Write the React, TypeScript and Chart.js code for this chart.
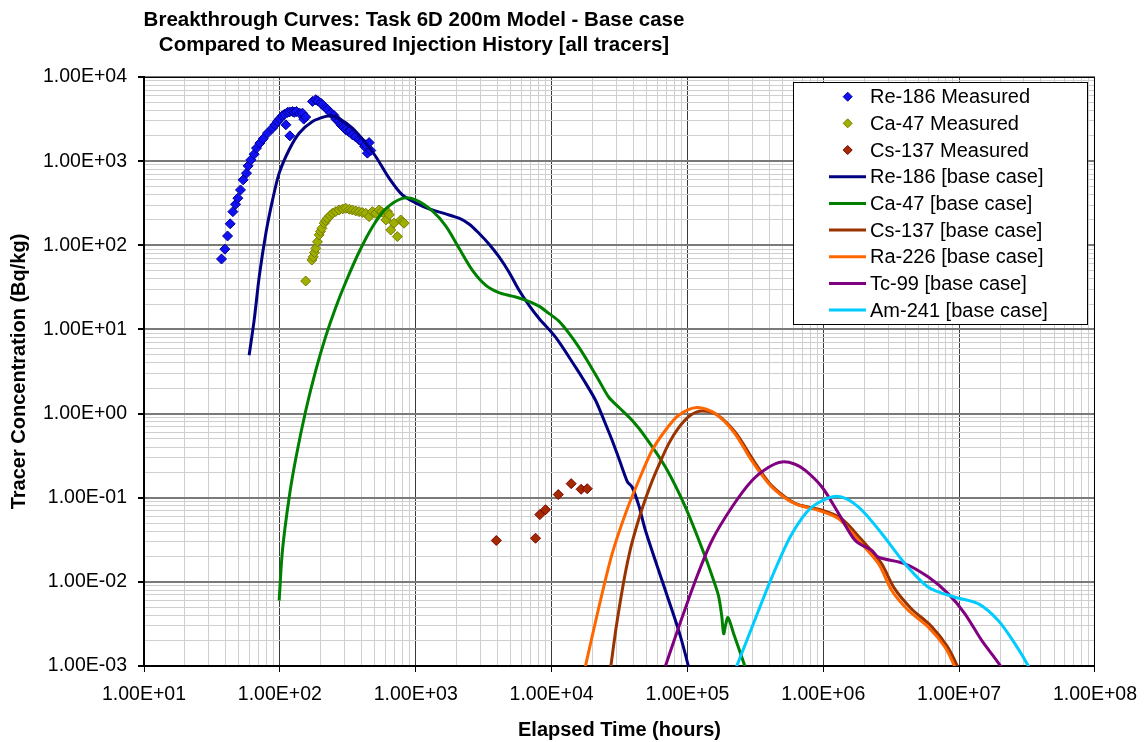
import React, { useEffect, useRef } from 'react';
import { Chart, registerables } from 'chart.js';

Chart.register(...registerables);

// ---------- DATA ----------
const titleLines = [
  'Breakthrough Curves: Task 6D 200m Model - Base case',
  'Compared to Measured Injection History [all tracers]',
];
const xAxisTitle = 'Elapsed Time (hours)';
const yAxisTitle = 'Tracer Concentration (Bq/kg)';

const xDecades = [1e1, 1e2, 1e3, 1e4, 1e5, 1e6, 1e7, 1e8];
const xTickLabels = ['1.00E+01', '1.00E+02', '1.00E+03', '1.00E+04', '1.00E+05', '1.00E+06', '1.00E+07', '1.00E+08'];
const yDecades = [1e-3, 1e-2, 1e-1, 1e0, 1e1, 1e2, 1e3, 1e4];
const yTickLabels = ['1.00E-03', '1.00E-02', '1.00E-01', '1.00E+00', '1.00E+01', '1.00E+02', '1.00E+03', '1.00E+04'];

const re186Measured: number[][] = [
  [37.2, 68.7], [39.4, 90], [41.2, 129], [43.1, 180], [45.1, 251], [47.2, 307], [49.1, 363], [51.3, 455],
  [53.7, 599], [56.8, 720], [58.4, 879], [61.2, 1035], [64.7, 1210], [67.3, 1428], [71.3, 1637], [75.4, 1842],
  [81.1, 2153], [88.3, 2470], [92, 2700], [96, 2960], [100, 3200], [104.5, 3459], [108, 3600], [113.7, 3790],
  [118, 3850], [124, 3890], [128, 3800], [132.5, 3890], [140, 3700], [146.7, 3720], [150, 3160], [155, 3340],
  [110.7, 2705], [118.5, 2000],
  [174, 5130], [183.8, 5380], [190, 5200], [200, 4900], [205, 4700], [218, 4270], [225, 4100], [237, 3720],
  [250, 3500], [258, 3160], [270, 3000], [281, 2705], [290, 2600], [295, 2500], [306, 2360], [320, 2250],
  [330, 2300], [342, 2056], [360, 1950], [383, 1794], [400, 1700], [420, 1500], [429, 1563], [441, 1245],
  [454, 1660], [467, 1337],
];

const ca47Measured: number[][] = [
  [155, 37.6], [172, 66.8], [176, 73], [180, 82], [184, 92], [189, 110], [194.5, 133], [199, 146], [204, 159],
  [212, 183], [218, 196], [224, 210], [234, 225], [244, 240], [258, 252], [273, 263], [290, 270], [306, 275],
  [325, 268], [342, 263], [362, 256], [383, 251], [405, 245], [429, 240], [454, 219], [480, 251], [508, 240],
  [537, 263], [560, 250], [585, 240], [603, 200], [618, 251], [640, 230], [655, 152], [692, 183], [732, 127],
  [776, 200], [800, 190], [821, 183],
];

const cs137Measured: number[][] = [
  [3920, 0.031], [7620, 0.033], [8200, 0.063], [9030, 0.072], [11200, 0.109], [13940, 0.147], [16500, 0.126], [18300, 0.128],
];

const re186Model: number[][] = [
  [59.4, 4.94], [64.7, 12.9], [70.5, 42.4], [78.9, 139], [88.4, 346], [98.9, 720], [117, 1365], [138.6, 2150],
  [174, 2960], [218, 3400], [240, 3460], [273, 3200], [342, 2470], [429, 1637], [508, 1135], [637, 628],
  [797, 397], [1000, 319], [1253, 270.5], [1662, 235.8], [2081, 209.6], [2466, 179.3], [2920, 139],
  [3459, 103.6], [4098, 73.1], [4853, 48.1], [5749, 29.4], [6810, 19.5], [8066, 13.6], [10700, 8.09],
  [15014, 3.56], [17280, 2.49], [21060, 1.44], [24660, 0.788], [27900, 0.481], [31250, 0.294],
  [35000, 0.176], [36390, 0.152], [39130, 0.134], [43840, 0.081], [49110, 0.0408], [65050, 0.01036],
  [86300, 0.00263], [102200, 0.00096], [106000, 0.0007],
];

const ca47Model: number[][] = [
  [98.8, 0.00598], [104.5, 0.0236], [117, 0.1], [131.1, 0.294], [155.3, 1.095], [184, 3.28], [217.9, 8.32],
  [258.1, 18.4], [305.7, 36.6], [383, 83.2], [479.8, 165.2], [601.8, 270.5], [797, 360.7], [1000, 346],
  [1325, 256], [1662, 169.7], [2081, 92.9], [2608, 50.8], [3271, 33.7], [4098, 27.4], [5132, 24.9],
  [6441, 22.3], [8066, 18.9], [9552, 15.5], [11316, 12.56], [13404, 9.04], [15877, 6.16], [18806, 3.97],
  [22277, 2.49], [26385, 1.563], [31250, 1.189], [39130, 0.832], [49110, 0.5265], [68900, 0.2313],
  [96670, 0.0773], [135660, 0.01963], [158770, 0.00954], [169920, 0.00668], [178790, 0.00397],
  [184930, 0.00242], [191260, 0.0031], [198830, 0.00376], [218980, 0.00242], [267000, 0.000954], [280000, 0.0007],
];

const cs137Model: number[][] = [
  [27140, 0.00092], [29530, 0.002515], [32140, 0.005991], [34990, 0.01302], [38080, 0.02469], [41430, 0.04081],
  [46390, 0.07389], [53420, 0.1401], [61520, 0.2424], [72870, 0.4391], [86300, 0.6808], [105200, 0.9546],
  [128100, 1.075], [165000, 0.97], [225000, 0.6], [305000, 0.28], [400000, 0.15], [520000, 0.103],
  [650000, 0.083], [950000, 0.072], [1350000, 0.057], [1900000, 0.032], [2650000, 0.017], [3350000, 0.0083],
  [4450000, 0.0048], [6200000, 0.003], [8200000, 0.0017], [9800000, 0.00096], [10500000, 0.0007],
];

const ra226Model: number[][] = [
  [17500, 0.0009], [22300, 0.005], [27900, 0.0215], [35000, 0.0646], [43800, 0.16], [55000, 0.366],
  [68900, 0.634], [86300, 0.955], [117500, 1.18], [160000, 1.0], [220000, 0.6], [300000, 0.27],
  [400000, 0.145], [520000, 0.1], [650000, 0.082], [923000, 0.0707], [1300000, 0.056], [1820000, 0.031],
  [2550000, 0.0164], [3190000, 0.0079], [4240000, 0.00456], [5940000, 0.00289], [7880000, 0.00167],
  [9340000, 0.00096], [10000000, 0.0007],
];

const tc99Model: number[][] = [
  [68900, 0.001], [86300, 0.0029], [114600, 0.0104], [151600, 0.031], [213000, 0.0775], [299000, 0.16],
  [396000, 0.23], [497000, 0.266], [620000, 0.25], [738000, 0.211], [978000, 0.134], [1300000, 0.0646],
  [1720000, 0.031], [2280000, 0.0236], [2550000, 0.0196], [4000000, 0.0164], [5940000, 0.0114],
  [8330000, 0.0072], [11000000, 0.0042], [14700000, 0.002], [20600000, 0.00095], [22000000, 0.0007],
];

const am241Model: number[][] = [
  [225000, 0.0009], [299000, 0.0029], [419000, 0.0114], [588000, 0.0373], [824000, 0.0775], [1260000, 0.104],
  [1820000, 0.0775], [2700000, 0.0373], [4000000, 0.0164], [5940000, 0.00865], [9340000, 0.00656],
  [13900000, 0.00547], [19400000, 0.00347], [25800000, 0.00183], [33300000, 0.00091], [35000000, 0.0007],
];

// ---------- STYLE ----------
const FONT = '"Liberation Sans", Arial, sans-serif';

const toPts = (arr: number[][]) => arr.map(([x, y]) => ({ x, y }));
const isMajor = (v: number) => Math.abs(Math.log10(v) - Math.round(Math.log10(v))) < 1e-6;
const withMinors = (decades: number[]) => {
  const out: number[] = [];
  decades.forEach((d, i) => {
    if (i === decades.length - 1) { out.push(d); return; }
    for (let m = 1; m <= 9; m++) out.push(m * d);
  });
  return out;
};
const labelFor = (decades: number[], labels: string[], v: number) => {
  if (!isMajor(v)) return '';
  const i = decades.findIndex((d) => Math.abs(Math.log10(d) - Math.log10(v)) < 1e-6);
  return i >= 0 ? labels[i] : '';
};

const scatterSet = (label: string, data: number[][], fill: string, border: string) => ({
  label,
  data: toPts(data),
  showLine: false,
  pointStyle: 'rectRot',
  pointRadius: 5,
  pointHoverRadius: 5,
  pointBackgroundColor: fill,
  pointBorderColor: border,
  pointBorderWidth: 1,
  backgroundColor: fill,
  borderColor: border,
  _kind: 'point',
});

const lineSet = (label: string, data: number[][], color: string) => ({
  label,
  data: toPts(data),
  showLine: true,
  pointRadius: 0,
  pointHoverRadius: 0,
  borderColor: color,
  backgroundColor: color,
  borderWidth: 3,
  tension: 0.3,
  _kind: 'line',
});

const decorPlugin = {
  id: 'decor',
  afterDraw(chart: any) {
    const ctx = chart.ctx as CanvasRenderingContext2D;
    const a = chart.chartArea;
    ctx.save();
    // plot border (top, right)
    ctx.strokeStyle = '#000';
    ctx.lineWidth = 1;
    ctx.beginPath();
    ctx.moveTo(a.left, a.top + 0.5);
    ctx.lineTo(a.right - 0.5, a.top + 0.5);
    ctx.lineTo(a.right - 0.5, a.bottom);
    ctx.stroke();

    // title
    ctx.fillStyle = '#000';
    ctx.font = `bold 20.5px ${FONT}`;
    ctx.textAlign = 'center';
    ctx.textBaseline = 'alphabetic';
    ctx.fillText(titleLines[0], 414, 26);
    ctx.fillText(titleLines[1], 414, 51);

    // legend
    const bx = 793, by = 82, bw = 294, bh = 242;
    ctx.fillStyle = '#fff';
    ctx.fillRect(bx, by, bw, bh);
    ctx.strokeStyle = '#000';
    ctx.lineWidth = 1;
    ctx.strokeRect(bx + 0.5, by + 0.5, bw, bh);
    const step = 26.67;
    ctx.font = `20px ${FONT}`;
    ctx.textAlign = 'left';
    ctx.textBaseline = 'middle';
    chart.data.datasets.forEach((ds: any, i: number) => {
      const cy = by + 14.7 + i * step;
      if (ds._kind === 'point') {
        const cx = 847.7, r = 4.5;
        ctx.beginPath();
        ctx.moveTo(cx, cy - r);
        ctx.lineTo(cx + r, cy);
        ctx.lineTo(cx, cy + r);
        ctx.lineTo(cx - r, cy);
        ctx.closePath();
        ctx.fillStyle = ds.pointBackgroundColor;
        ctx.fill();
        ctx.strokeStyle = ds.pointBorderColor;
        ctx.lineWidth = 1;
        ctx.stroke();
      } else {
        ctx.strokeStyle = ds.borderColor;
        ctx.lineWidth = 3;
        ctx.beginPath();
        ctx.moveTo(829, cy);
        ctx.lineTo(866, cy);
        ctx.stroke();
      }
      ctx.fillStyle = '#000';
      ctx.fillText(ds.label, 870, cy + 1);
    });
    ctx.restore();
  },
};

export default function App() {
  const ref = useRef<HTMLCanvasElement | null>(null);

  useEffect(() => {
    if (!ref.current) return;
    const datasets: any[] = [
      scatterSet('Re-186 Measured', re186Measured, '#1010F0', '#000099'),
      scatterSet('Ca-47 Measured', ca47Measured, '#9DB000', '#7A7A00'),
      scatterSet('Cs-137 Measured', cs137Measured, '#A52A00', '#7A0000'),
      lineSet('Re-186 [base case]', re186Model, '#000080'),
      lineSet('Ca-47 [base case]', ca47Model, '#008000'),
      lineSet('Cs-137 [base case]', cs137Model, '#993300'),
      lineSet('Ra-226 [base case]', ra226Model, '#FF6600'),
      lineSet('Tc-99 [base case]', tc99Model, '#800080'),
      lineSet('Am-241 [base case]', am241Model, '#00CCFF'),
    ];
    datasets.forEach((d, i) => { d.order = -i; });

    const xTicks = withMinors(xDecades);
    const yTicks = withMinors(yDecades);

    const chart = new Chart(ref.current, {
      type: 'scatter',
      data: { datasets },
      options: {
        animation: false,
        responsive: false,
        devicePixelRatio: 1,
        events: [],
        layout: { padding: { top: 77, right: 52, left: 0, bottom: 0 } },
        plugins: {
          legend: { display: false },
          title: { display: false },
          tooltip: { enabled: false },
        },
        scales: {
          x: {
            type: 'logarithmic',
            position: 'bottom',
            min: 10,
            max: 1e8,
            afterBuildTicks: (s: any) => { s.ticks = xTicks.map((v) => ({ value: v })); },
            afterFit: (s: any) => { s.height = 76; },
            ticks: {
              autoSkip: false,
              maxRotation: 0,
              minRotation: 0,
              padding: 11,
              color: '#000',
              font: { family: FONT, size: 19.5 },
              callback: (v: any) => labelFor(xDecades, xTickLabels, Number(v)),
            },
            grid: {
              color: (c: any) => (c.tick && isMajor(c.tick.value) ? '#3a3a3a' : '#cfcfcf'),
              lineWidth: 1,
              tickColor: (c: any) => (c.tick && isMajor(c.tick.value) ? '#000' : 'rgba(0,0,0,0)'),
              tickLength: 6,
              drawTicks: true,
            },
            border: { color: '#000', width: 2 },
            title: {
              display: true,
              text: xAxisTitle,
              color: '#000',
              font: { family: FONT, size: 20, weight: 'bold' },
              padding: { top: 0, bottom: 0 },
            },
          },
          y: {
            type: 'logarithmic',
            position: 'left',
            min: 1e-3,
            max: 1e4,
            afterBuildTicks: (s: any) => { s.ticks = yTicks.map((v) => ({ value: v })); },
            afterFit: (s: any) => { s.width = 144; },
            ticks: {
              autoSkip: false,
              padding: 11,
              color: '#000',
              font: { family: FONT, size: 19.5 },
              callback: (v: any) => labelFor(yDecades, yTickLabels, Number(v)),
            },
            grid: {
              color: (c: any) => (c.tick && isMajor(c.tick.value) ? '#7a7a7a' : '#cfcfcf'),
              lineWidth: (c: any) => (c.tick && isMajor(c.tick.value) ? 2 : 1),
              tickColor: (c: any) => (c.tick && isMajor(c.tick.value) ? '#000' : 'rgba(0,0,0,0)'),
              tickLength: 6,
              drawTicks: true,
            },
            border: { color: '#000', width: 2 },
            title: {
              display: true,
              text: yAxisTitle,
              color: '#000',
              font: { family: FONT, size: 20, weight: 'bold' },
              padding: { top: 7, bottom: 0 },
            },
          },
        },
      } as any,
      plugins: [decorPlugin],
    });
    return () => chart.destroy();
  }, []);

  return (
    <div style={{ position: 'fixed', left: 0, top: 0, width: 1148, height: 742, background: '#fff' }}>
      <canvas ref={ref} width={1148} height={742} style={{ display: 'block', width: 1148, height: 742 }} />
    </div>
  );
}
